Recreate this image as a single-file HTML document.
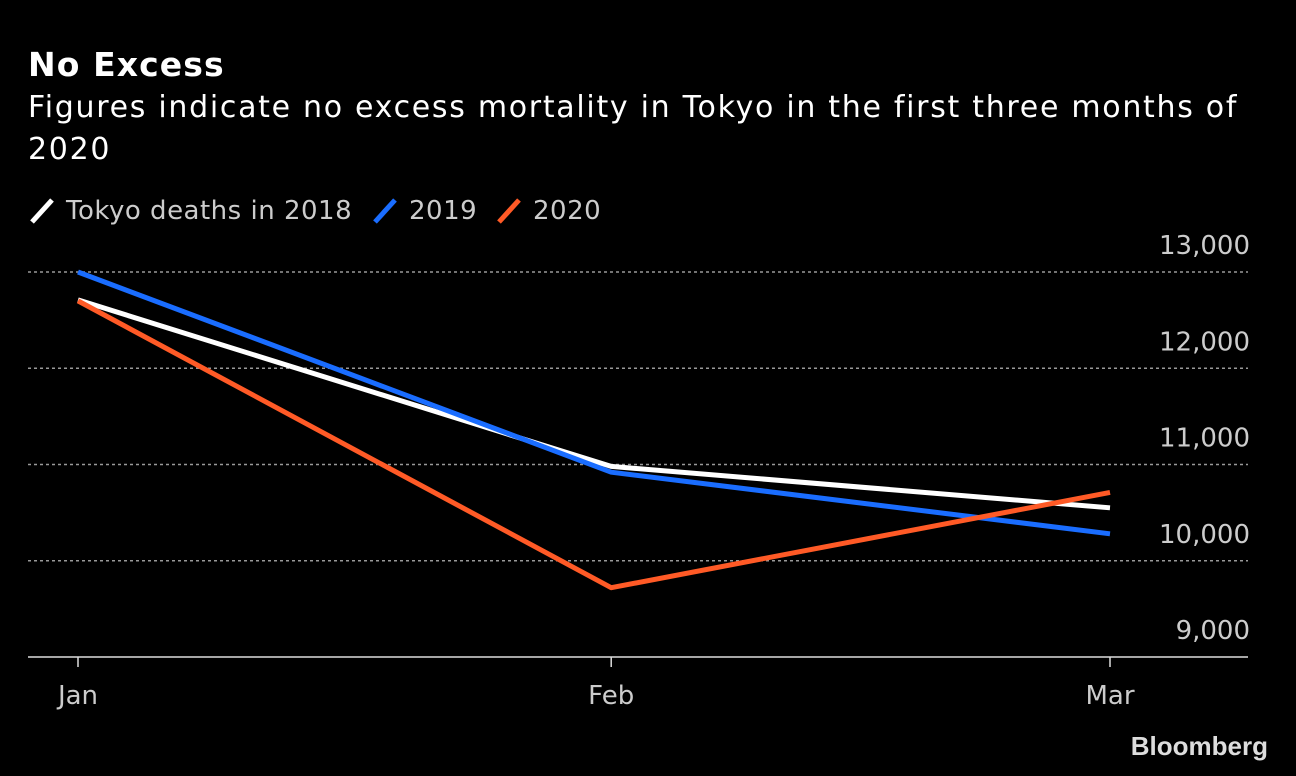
<!DOCTYPE html>
<html><head><meta charset="utf-8"><style>
body{margin:0;background:#000;width:1296px;height:772px;overflow:hidden;font-family:"DejaVu Sans","Liberation Sans",sans-serif;color:#fff}
</style></head><body>
<svg width="1296" height="772" font-family="DejaVu Sans, Liberation Sans, sans-serif">
<text x="28" y="76" font-size="33" font-weight="bold" letter-spacing="1.1" fill="#fff">No Excess</text>
<text x="28" y="117" font-size="30" letter-spacing="1.7" fill="#fff">Figures indicate no excess mortality in Tokyo in the first three months of</text>
<text x="28" y="159" font-size="30" letter-spacing="1.7" fill="#fff">2020</text>
<g id="legend"></g>
<g id="grid"></g><g id="lines"></g>
<text x="1268" y="755" font-size="26" font-weight="bold" fill="#ddd" text-anchor="end" font-family="Liberation Sans, sans-serif">Bloomberg</text>
</svg>
<script>
const categories=["Jan","Feb","Mar"];
const categoryDays=[0,31,60];
const s2018=[12710,10980,10550];
const s2019=[13000,10920,10280];
const s2020=[12700,9720,10710];
const yTicks=[9000,10000,11000,12000,13000];
const yTickLabels=["9,000","10,000","11,000","12,000","13,000"];
const seriesNames=["Tokyo deaths in 2018","2019","2020"];
const colors=["#ffffff","#1a6dff","#ff5a26"];
const NS="http://www.w3.org/2000/svg";
const x=i=>78+(1110-78)*categoryDays[i]/categoryDays[categoryDays.length-1];
const y=v=>657-(v-9000)*(657-272)/4000;
function el(t,a,p){const e=document.createElementNS(NS,t);for(const k in a)e.setAttribute(k,a[k]);p.appendChild(e);return e;}
const g=document.getElementById('grid');
yTicks.forEach((t,i)=>{
 if(t>9000){const l=el('line',{x1:28,x2:1248,y1:y(t),y2:y(t),stroke:'#999','stroke-width':1.5,'stroke-dasharray':'3,3'},g);
 
 }
 const tx=el('text',{x:1250,y:y(t)-18,'font-size':26,fill:'#ccc','text-anchor':'end'},g);tx.textContent=yTickLabels[i];
 
 
});
const ax=el('line',{x1:28,x2:1248,y1:657,y2:657,stroke:'#ddd','stroke-width':1.5},g);


categories.forEach((c,i)=>{
 const tk=el('line',{x1:x(i),x2:x(i),y1:657,y2:667,stroke:'#ddd','stroke-width':1.5},g);
 
 
 const t=el('text',{x:x(i),y:704,'font-size':26,fill:'#ccc','text-anchor':'middle'},g);t.textContent=c;
 
 
});
const L=document.getElementById('lines');
[s2018,s2019,s2020].forEach((s,k)=>{
 const p=el('polyline',{points:s.map((v,i)=>x(i)+','+y(v)).join(' '),fill:'none',stroke:colors[k],'stroke-width':5,'stroke-linejoin':'round'},L);
 
 
});
const lg=document.getElementById('legend');
let lx=32;
seriesNames.forEach((n,k)=>{
 const m=el('line',{x1:lx,y1:222,x2:lx+20,y2:200,stroke:colors[k],'stroke-width':5},lg);
 
 
 const t=el('text',{x:lx+34,y:219,'font-size':26,'letter-spacing':0.5,fill:'#ccc'},lg);t.textContent=n;
 
 
 lx+=[343,124,0][k];
});
</script>
</body></html>
